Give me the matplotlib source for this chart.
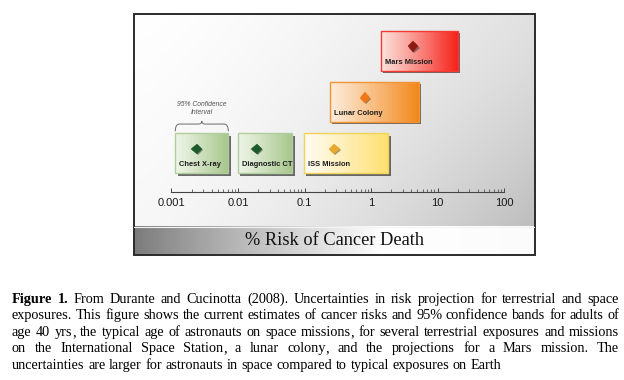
#!/usr/bin/env python3

import numpy as np
import matplotlib
matplotlib.use("Agg")
import matplotlib.pyplot as plt
import matplotlib.patheffects as pe
from matplotlib.path import Path
from matplotlib.patches import PathPatch, Rectangle
from matplotlib.ticker import FixedLocator, FixedFormatter, NullFormatter


# Chart values (percent risk of cancer death, estimate and 95% band)
EXPOSURES = ["Chest X-ray", "Diagnostic CT", "ISS Mission", "Lunar Colony", "Mars Mission"]
RISK_CENTRAL = [0.0024, 0.019, 0.28, 0.81, 4.3]
RISK_LOW = [0.00114, 0.0099, 0.098, 0.244, 1.4]
RISK_HIGH = [0.00715, 0.066, 1.82, 5.3, 20.0]
ROW = [0, 0, 0, 1, 2]

TICK_VALUES = [0.001, 0.01, 0.1, 1, 10, 100]
TICK_LABELS = ["0.001", "0.01", "0.1", "1", "10", "100"]

AXIS_TITLE = "% Risk of Cancer Death"
BAND_NOTE = "95% Confidence\nInterval"

CAPTION_LINES = [
    "Figure 1.  From Durante and Cucinotta (2008). Uncertainties in risk projection for terrestrial and space",
    "exposures. This figure shows the current estimates of cancer risks and 95% confidence bands for adults of",
    "age 40 yrs, the typical age of astronauts on space missions, for several terrestrial exposures and missions",
    "on the International Space Station, a lunar colony, and the projections for a Mars mission. The",
    "uncertainties are larger for astronauts in space compared to typical exposures on Earth",
]

# Box styles: (left colour, right colour, edge, diamond)
BOX_STYLE = {
    "Chest X-ray": ("#eef4e6", "#a6c68c", "#b2cd9c", "#1d5a2c"),
    "Diagnostic CT": ("#eef4e6", "#a6c68c", "#b2cd9c", "#1d5a2c"),
    "ISS Mission": ("#fffbf2", "#ffdf6e", "#f3d45a", "#e8aa2e"),
    "Lunar Colony": ("#fdebd9", "#f2871a", "#f09435", "#f07818"),
    "Mars Mission": ("#fbe2da", "#f5211a", "#f23a30", "#8c1c12"),
}

W, H = 624, 380


def fig_rect(x0, y0, x1, y1):
    # pixel box (top-left origin) -> figure fraction rect
    return [x0 / W, 1 - y1 / H, (x1 - x0) / W, (y1 - y0) / H]


def mix(c1, c2, t):
    a = np.array(matplotlib.colors.to_rgb(c1))
    b = np.array(matplotlib.colors.to_rgb(c2))
    return tuple(a + (b - a) * t)


def draw_panel(fig):
    bg = fig.add_axes(fig_rect(134, 14, 535, 255))
    bg.set_xlim(0, 1)
    bg.set_ylim(0, 1)
    bg.axis("off")

    band_frac = (255 - 226.7) / (255 - 14)

    # soft grey gradient behind the chart
    xx, yy = np.meshgrid(np.linspace(0, 1, 300), np.linspace(0, 1, 200))
    v = 1 - 0.12 * xx ** 1.5 - 0.03 * yy - 0.11 * (xx * yy) ** 1.5
    img = np.dstack([v, v, v])
    bg.imshow(img, extent=[0, 1, band_frac, 1], aspect="auto", interpolation="bilinear")

    # axis-title band: dark on the left, fading to white
    xb = np.linspace(0, 1, 300)
    vb = np.clip(0.48 + 0.52 * (xb / 0.62) ** 0.9, 0, 1)
    vb = np.where(xb > 0.62, 1.0 - 0.04 * (xb - 0.62), vb)
    band = np.dstack([np.tile(vb, (20, 1))] * 3)
    bg.imshow(band, extent=[0, 1, 0, band_frac], aspect="auto", interpolation="bilinear")
    bg.plot([0, 1], [band_frac, band_frac], color="#f4f4f4", lw=0.8)

    bg.add_patch(Rectangle((0, 0), 1, 1, fill=False, edgecolor="#2b2b2b", lw=1.4,
                           transform=bg.transAxes, clip_on=False))
    bg.text(0.5, band_frac / 2, AXIS_TITLE, ha="center", va="center",
            family="Liberation Serif", fontsize=13.2, color="#111111")


def draw_chart(fig):
    ax = fig.add_axes(fig_rect(134, 14, 535, 226.7))
    ax.patch.set_alpha(0)
    ax.set_xscale("log")
    dec = 66.5
    ax.set_xlim(10 ** (-3 - (171.5 - 134) / dec), 10 ** (2 + (535 - 504) / dec))
    ax.set_ylim(-1.432, 2.718)

    box_h = 0.78
    for name, lo, hi, mid, row in zip(EXPOSURES, RISK_LOW, RISK_HIGH, RISK_CENTRAL, ROW):
        c_left, c_right, edge, dia = BOX_STYLE[name]
        # shadow layer
        ax.barh(row, hi - lo, left=lo, height=box_h, color="#5a5a5a", zorder=2,
                path_effects=[pe.withSimplePatchShadow(offset=(1.6, -1.6),
                                                       shadow_rgbFace="#3c3c3c", alpha=0.75)])
        # gradient fill as thin strips, left to right
        edges = np.logspace(np.log10(lo), np.log10(hi), 41)
        for i in range(40):
            t = (i + 0.5) / 40
            ax.barh(row, edges[i + 1] - edges[i], left=edges[i], height=box_h,
                    color=mix(c_left, c_right, t ** 1.1), lw=0, zorder=3)
        ax.barh(row, hi - lo, left=lo, height=box_h, fill=False, edgecolor=edge,
                lw=1.0, zorder=4)
        ax.plot([mid], [row + 0.085], marker="D", ms=5.4, color=dia, mec=dia, mew=0.3,
                zorder=5, path_effects=[pe.withSimplePatchShadow(offset=(0.8, -0.8),
                                                                 shadow_rgbFace="#333333",
                                                                 alpha=0.5)])
        ax.annotate(name, (lo, row - 0.22), xytext=(2.9, 0), textcoords="offset points",
                    ha="left", va="center", family="Liberation Sans", weight="bold",
                    fontsize=5.4, color="#1c1c1c", zorder=6)

    # brace above the first interval
    lo, hi = np.log10(RISK_LOW[0]), np.log10(RISK_HIGH[0])
    fx = lambda f: 10 ** (lo + f * (hi - lo))
    y0, y1, yp = 0.43, 0.571, 0.63
    verts = [(fx(0), y0), (fx(0), y1), (fx(0.08), y1), (fx(0.44), y1),
             (fx(0.5), y1), (fx(0.5), yp), (fx(0.5), y1), (fx(0.56), y1),
             (fx(0.92), y1), (fx(1), y1), (fx(1), y0)]
    codes = [Path.MOVETO, Path.CURVE3, Path.CURVE3, Path.LINETO,
             Path.CURVE3, Path.CURVE3, Path.CURVE3, Path.CURVE3,
             Path.LINETO, Path.CURVE3, Path.CURVE3]
    ax.add_patch(PathPatch(Path(verts, codes), fill=False, edgecolor="#6a6a6a", lw=0.7))
    ax.text(fx(0.5), 0.875, BAND_NOTE, ha="center", va="center", style="italic",
            family="Liberation Sans", fontsize=4.9, color="#555555", linespacing=1.25)

    # log axis
    for side in ["left", "right", "top"]:
        ax.spines[side].set_visible(False)
    ax.spines["bottom"].set_position(("data", -0.761))
    ax.spines["bottom"].set_bounds(TICK_VALUES[0], TICK_VALUES[-1])
    ax.spines["bottom"].set_color("#444444")
    ax.spines["bottom"].set_linewidth(0.8)
    ax.yaxis.set_visible(False)
    ax.xaxis.set_major_locator(FixedLocator(TICK_VALUES))
    ax.xaxis.set_major_formatter(FixedFormatter(TICK_LABELS))
    minor = [m * 10.0 ** e for e in range(-3, 2) for m in range(2, 10)]
    ax.xaxis.set_minor_locator(FixedLocator(minor))
    ax.xaxis.set_minor_formatter(NullFormatter())
    ax.tick_params(axis="x", which="major", direction="in", length=3.2, width=0.7,
                   color="#444444", pad=4, labelsize=8, labelcolor="#1a1a1a")
    ax.tick_params(axis="x", which="minor", direction="in", length=2.0, width=0.6,
                   color="#555555")
    for lab in ax.get_xticklabels():
        lab.set_family("Liberation Sans")


def draw_caption(fig, left=12, right=619, top=303, step=16.45, size=10.3):
    renderer = fig.canvas.get_renderer()

    def width(t):
        return t.get_window_extent(renderer).width

    def put(s, y, bold=False):
        return fig.text(0, y, s, family="Liberation Serif", fontsize=size,
                        weight="bold" if bold else "normal",
                        va="baseline", ha="left", color="#000000")

    probe = put("a a", 0)
    probe2 = put("aa", 0)
    space = width(probe) - width(probe2)
    probe.remove()
    probe2.remove()

    for i, line in enumerate(CAPTION_LINES):
        words = line.split()
        y = 1 - (top + i * step) / H
        # each word is a list of text pieces; a trailing comma is drawn on
        # its own so the word body keeps the common baseline
        pieces = []
        for j, w in enumerate(words):
            bold = i == 0 and j < 2
            if w.endswith(",") and len(w) > 1:
                parts = [put(w[:-1], y, bold), put(",", y, bold)]
            else:
                parts = [put(w, y, bold)]
            pieces.append(parts)
        widths = [[width(t) for t in parts] for parts in pieces]
        total = sum(sum(ws) for ws in widths)
        last = i == len(CAPTION_LINES) - 1
        gap = space if last else (right - left - total) / (len(words) - 1)
        x = left
        for parts, ws in zip(pieces, widths):
            for t, w in zip(parts, ws):
                t.set_x(x / W)
                x += w
            x += gap


def main():
    fig = plt.figure(figsize=(W / 100, H / 100), dpi=100)
    fig.patch.set_facecolor("white")
    draw_panel(fig)
    draw_chart(fig)
    draw_caption(fig)
    fig.savefig("out.png", dpi=100)
    plt.close(fig)


if __name__ == "__main__":
    main()
